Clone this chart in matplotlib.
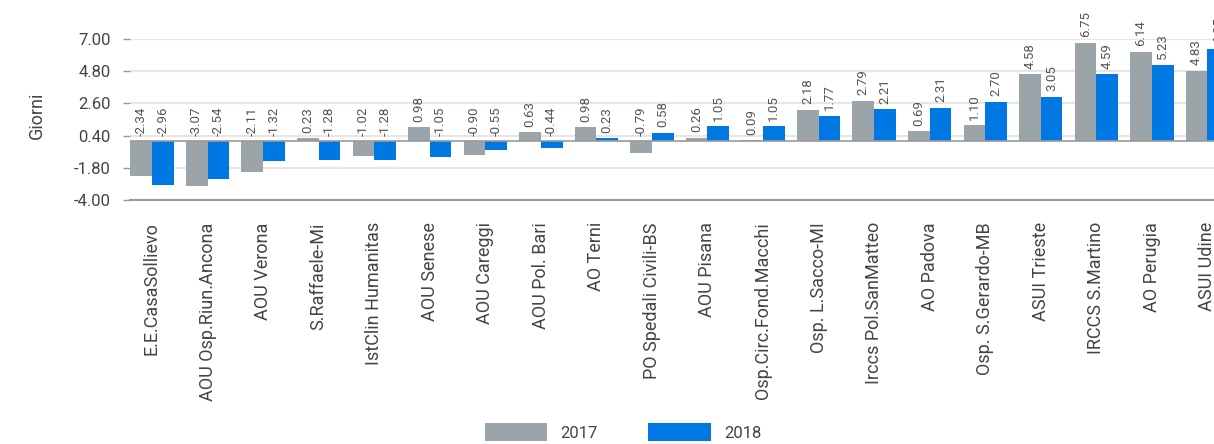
import matplotlib
matplotlib.use("Agg")
import matplotlib.pyplot as plt
import numpy as np

categories = ["E.E.CasaSollievo", "AOU Osp.Riun.Ancona", "AOU Verona", "S.Raffaele-Mi",
              "IstClin Humanitas", "AOU Senese", "AOU Careggi", "AOU Pol. Bari", "AO Terni",
              "PO Spedali Civili-BS", "AOU Pisana", "Osp.Circ.Fond.Macchi", "Osp. L.Sacco-MI",
              "Irccs Pol.SanMatteo", "AO Padova", "Osp. S.Gerardo-MB", "ASUI Trieste",
              "IRCCS S.Martino", "AO Perugia", "ASUI Udine"]
v2017 = [-2.34, -3.07, -2.11, 0.23, -1.02, 0.98, -0.90, 0.63, 0.98, -0.79,
         0.26, 0.09, 2.18, 2.79, 0.69, 1.10, 4.58, 6.75, 6.14, 4.83]
v2018 = [-2.96, -2.54, -1.32, -1.28, -1.28, -1.05, -0.55, -0.44, 0.23, 0.58,
         1.05, 1.05, 1.77, 2.21, 2.31, 2.70, 3.05, 4.59, 5.23, 6.35]
yticks = [-4.00, -1.80, 0.40, 2.60, 4.80, 7.00]
series_names = ["2017", "2018"]

plt.rcParams['font.family'] = ['Roboto', 'DejaVu Sans']

W, H = 1214, 444
fig = plt.figure(figsize=(W / 100, H / 100), dpi=100)
ax = fig.add_axes([130 / W, 1 - 200 / H, 1 - 130 / W, (200 - 39) / H])

gray = "#9ba4a8"
blue = "#0078e3"
txt = "#444444"
x = np.arange(len(categories))
w = 0.39
b1 = ax.bar(x - w / 2, v2017, w, color=gray, label=series_names[0], zorder=3)
b2 = ax.bar(x + w / 2, v2018, w, color=blue, label=series_names[1], zorder=3)

for xs, vals in ((x - w / 2, v2017), (x + w / 2, v2018)):
    for xi, v in zip(xs, vals):
        ax.annotate(f"{v:.2f}", (xi, max(v, 0)), xytext=(0, 4), textcoords="offset points",
                    rotation=90, ha="center", va="bottom", fontsize=9.5, color="#555555",
                    annotation_clip=False)

ax.set_xlim(-0.396, 19.118)
ax.set_ylim(-4, 7)
ax.set_yticks(yticks)
ax.set_yticklabels([f"{t:.2f}" for t in yticks], fontsize=12, color=txt)
ax.set_xticks(x)
ax.set_xticklabels(categories, rotation=90, fontsize=13, color=txt, ha="center", va="top")
ax.tick_params(axis="x", length=0, pad=16)
ax.tick_params(axis="y", length=5, width=1, color="#999999", pad=9)
ax.yaxis.grid(True, color="#e6e6e6", linewidth=1.5, zorder=0)
ax.set_axisbelow(True)
for s in ("top", "right", "left"):
    ax.spines[s].set_visible(False)
ax.spines["bottom"].set_color("#999999")
ax.spines["bottom"].set_linewidth(1.5)
ax.axhline(0, color="#999999", linewidth=1.2, zorder=4)

fig.text(37 / W, 1 - 115 / H, "Giorni", rotation=90, ha="center", va="center",
         fontsize=13, color=txt)

fig.legend(handles=[b1, b2], labels=series_names, loc="center",
           bbox_to_anchor=(623 / W, 1 - 432 / H), ncol=2, frameon=False,
           fontsize=12, handlelength=3.75, handleheight=1.2, handletextpad=0.8,
           columnspacing=3.0, labelcolor=txt)

fig.savefig("out.png", dpi=100)
